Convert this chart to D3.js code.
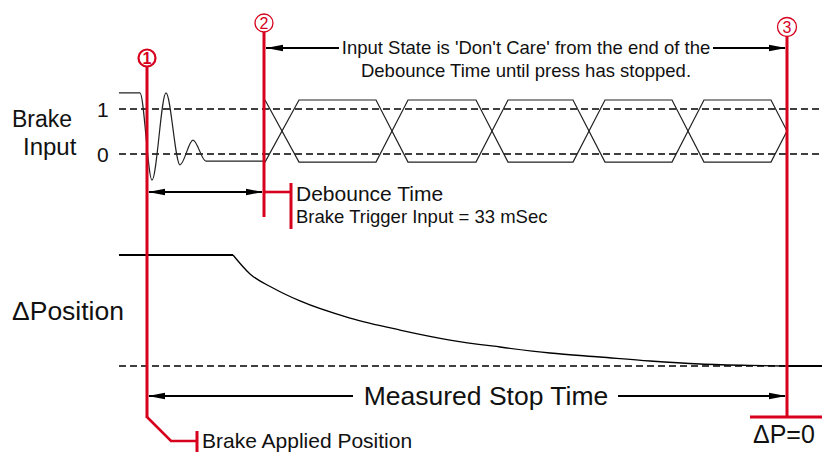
<!DOCTYPE html>
<html><head><meta charset="utf-8">
<script src="https://cdn.jsdelivr.net/npm/d3@7"></script>
<style>
body{margin:0;background:#fff}
svg{display:block}
text{font-family:"Liberation Sans",Arial,Helvetica,sans-serif;fill:#111}
</style>
</head><body>
<svg id="c" width="822" height="452"></svg>
<script>
// ---------------- data (time in arbitrary units, levels normalised) ----------------
const markerLabels = ["1", "2", "3"];
const markerTimes  = [29, 146, 669];           // ① brake applied, ② end of debounce, ③ ΔP = 0

const levelTicks   = [0, 1];
const levelLabels  = ["0", "1"];

// brake input bounce before debounce ends
const bounceT      = [1, 22, 34, 48, 62, 75, 88, 146];
const bounceLevel  = [1.36, 1.36, -0.58, 1.36, -0.24, 0.31, -0.16, -0.16];

// 'don't care' eye pattern
const eyeStart     = 147;
const eyeCross     = [165, 274, 374, 471, 570];
const eyeEnd       = 669;
const eyeHalf      = 16;
const eyeHigh      = 1.2;
const eyeLow       = -0.18;

// Δposition decay
const posT         = [1, 115, 132, 155, 182, 232, 282, 332, 382, 432, 482, 532, 582, 632, 667];
const posV         = [1, 1, 0.829, 0.703, 0.586, 0.432, 0.324, 0.234, 0.171, 0.117, 0.081, 0.045, 0.018, 0.005, 0];

const txtTop       = ["Input State is 'Don't Care' from the end of the", "Debounce Time until press has stopped."];
const txtDebounce  = ["Debounce Time", "Brake Trigger Input = 33 mSec"];
const txtStop      = "Measured Stop Time";
const txtApplied   = "Brake Applied Position";
const txtDP        = "\u0394P=0";
const txtInput     = ["Brake", "Input"];
const txtPos       = "\u0394Position";

// ---------------- scales ----------------
const RED = "#d7001d";
const svg = d3.select("#c");
const X    = d3.scaleLinear().domain([0, 704]).range([118, 822]);
const yIn  = d3.scaleLinear().domain([0, 1]).range([154, 109]);
const yPos = d3.scaleLinear().domain([0, 1]).range([366, 255]);

const mx = markerTimes.map(t => X(t));

function arrowHead(xTip, y, dir) { // dir = -1 points left, +1 points right
  const L = 17, W = 3.2;
  svg.append("path")
    .attr("d", `M${xTip},${y} L${xTip - dir * L},${y - W} L${xTip - dir * L},${y + W} Z`)
    .attr("fill", "#000");
}

// ---------------- dashed reference lines ----------------
levelTicks.forEach(v => {
  svg.append("line").attr("x1", X(1)).attr("x2", X(704)).attr("y1", yIn(v)).attr("y2", yIn(v))
    .attr("stroke", "#000").attr("stroke-width", 1.6).attr("stroke-dasharray", "7,4");
});
svg.append("line").attr("x1", X(1)).attr("x2", mx[2]).attr("y1", yPos(0)).attr("y2", yPos(0))
  .attr("stroke", "#000").attr("stroke-width", 1.6).attr("stroke-dasharray", "7,4");
svg.append("line").attr("x1", mx[2]).attr("x2", X(704)).attr("y1", yPos(0)).attr("y2", yPos(0))
  .attr("stroke", "#000").attr("stroke-width", 1.8);

// ---------------- brake input waveform ----------------
const bounce = bounceT.map((t, i) => [t, bounceLevel[i]]);
svg.append("path")
  .attr("d", d3.line().x(d => X(d[0])).y(d => yIn(d[1])).curve(d3.curveMonotoneX)(bounce))
  .attr("fill", "none").attr("stroke", "#222").attr("stroke-width", 1.2);
// joining step into eye
svg.append("path")
  .attr("d", d3.line().x(d => X(d[0])).y(d => yIn(d[1]))([[bounceT[bounceT.length-1], bounceLevel[bounceLevel.length-1]],[eyeStart, eyeLow]]))
  .attr("fill", "none").attr("stroke", "#222").attr("stroke-width", 1.2);

function trace(startHigh) {
  let s = startHigh;
  const lv = () => s ? eyeHigh : eyeLow;
  const pts = [[eyeStart, lv()]];
  eyeCross.forEach((c, i) => {
    if (i > 0) pts.push([c - eyeHalf, lv()]);
    s = !s;
    pts.push([c + eyeHalf, lv()]);
  });
  pts.push([eyeEnd - eyeHalf, lv()]);
  pts.push([eyeEnd, (eyeHigh + eyeLow) / 2]);
  return pts;
}
[true, false].forEach(h => {
  svg.append("path")
    .attr("d", d3.line().x(d => X(d[0])).y(d => yIn(d[1]))(trace(h)))
    .attr("fill", "none").attr("stroke", "#222").attr("stroke-width", 1.2);
});

// ---------------- Δposition ----------------
const pos = posT.map((t, i) => [t, posV[i]]);
svg.append("path")
  .attr("d", d3.line().x(d => X(d[0])).y(d => yPos(d[1]))(pos.slice(0, 2)))
  .attr("fill", "none").attr("stroke", "#000").attr("stroke-width", 1.8);
svg.append("path")
  .attr("d", d3.line().x(d => X(d[0])).y(d => yPos(d[1])).curve(d3.curveMonotoneX)(pos.slice(1)))
  .attr("fill", "none").attr("stroke", "#000").attr("stroke-width", 1.3);

// ---------------- red markers ----------------
const circ = [{cy: 58, r: 8.5, sw: 2.2, fw: "bold", fs: 16, y0: 67, y1: 418},
              {cy: 23, r: 9,   sw: 1.3, fw: "normal", fs: 16, y0: 32, y1: 217},
              {cy: 27, r: 9.5, sw: 1.3, fw: "normal", fs: 16, y0: 37, y1: 417}];
markerLabels.forEach((lab, i) => {
  const c = circ[i];
  svg.append("line").attr("x1", mx[i]).attr("x2", mx[i]).attr("y1", c.y0).attr("y2", c.y1)
    .attr("stroke", RED).attr("stroke-width", 3);
  svg.append("circle").attr("cx", mx[i]).attr("cy", c.cy).attr("r", c.r)
    .attr("fill", "#fff").attr("stroke", RED).attr("stroke-width", c.sw);
  svg.append("text").attr("x", mx[i]).attr("y", c.cy + 5.8).attr("text-anchor", "middle")
    .attr("font-size", c.fs).attr("font-weight", c.fw).style("fill", RED).text(lab);
});
// marker 1 leader to "Brake Applied Position"
svg.append("path").attr("d", `M${mx[0]},417 L${mx[0] + 24},441 L${mx[0] + 50},441`)
  .attr("fill", "none").attr("stroke", RED).attr("stroke-width", 2.6);
svg.append("line").attr("x1", mx[0] + 50).attr("x2", mx[0] + 50).attr("y1", 431).attr("y2", 452)
  .attr("stroke", RED).attr("stroke-width", 3);
// marker 2 leader to Debounce Time
svg.append("line").attr("x1", mx[1]).attr("x2", mx[1] + 27).attr("y1", 192).attr("y2", 192)
  .attr("stroke", RED).attr("stroke-width", 2.6);
svg.append("line").attr("x1", mx[1] + 27).attr("x2", mx[1] + 27).attr("y1", 183).attr("y2", 229)
  .attr("stroke", RED).attr("stroke-width", 3);
// marker 3 ΔP=0 bar
svg.append("line").attr("x1", mx[2] - 37).attr("x2", 822).attr("y1", 417).attr("y2", 417)
  .attr("stroke", RED).attr("stroke-width", 3);

// ---------------- arrows ----------------
// debounce
svg.append("line").attr("x1", mx[0] + 2).attr("x2", mx[1] - 2).attr("y1", 192).attr("y2", 192)
  .attr("stroke", "#000").attr("stroke-width", 2);
arrowHead(mx[0] + 1, 192, -1);
arrowHead(mx[1] - 1, 192, 1);
// top "don't care"
svg.append("line").attr("x1", mx[1] + 2).attr("x2", 339).attr("y1", 48).attr("y2", 48)
  .attr("stroke", "#000").attr("stroke-width", 2);
svg.append("line").attr("x1", 713).attr("x2", mx[2] - 2).attr("y1", 48).attr("y2", 48)
  .attr("stroke", "#000").attr("stroke-width", 2);
arrowHead(mx[1] + 2, 48, -1);
arrowHead(mx[2] - 1, 48, 1);
// measured stop time
svg.append("line").attr("x1", mx[0] + 2).attr("x2", 353).attr("y1", 396).attr("y2", 396)
  .attr("stroke", "#000").attr("stroke-width", 2);
svg.append("line").attr("x1", 618).attr("x2", mx[2] - 2).attr("y1", 396).attr("y2", 396)
  .attr("stroke", "#000").attr("stroke-width", 2);
arrowHead(mx[0] + 1, 396, -1);
arrowHead(mx[2] - 1, 396, 1);

// ---------------- texts ----------------
svg.append("text").attr("x", 12).attr("y", 127).attr("font-size", 23).text(txtInput[0]);
svg.append("text").attr("x", 23).attr("y", 155).attr("font-size", 24).text(txtInput[1]);
levelTicks.forEach((v, i) => {
  svg.append("text").attr("x", 97).attr("y", yIn(v) + 8).attr("font-size", 21).text(levelLabels[i]);
});
svg.append("text").attr("x", 12).attr("y", 320).attr("font-size", 26.5).text(txtPos);

svg.append("text").attr("x", 526).attr("y", 54).attr("text-anchor", "middle").attr("font-size", 18.5).text(txtTop[0]);
svg.append("text").attr("x", 526).attr("y", 77).attr("text-anchor", "middle").attr("font-size", 18.5).text(txtTop[1]);

svg.append("text").attr("x", 296).attr("y", 201).attr("font-size", 21).text(txtDebounce[0]);
svg.append("text").attr("x", 296).attr("y", 223).attr("font-size", 18.5).text(txtDebounce[1]);

svg.append("text").attr("x", 486).attr("y", 405).attr("text-anchor", "middle").attr("font-size", 26.5).text(txtStop);
svg.append("text").attr("x", 202).attr("y", 448).attr("font-size", 21).text(txtApplied);
svg.append("text").attr("x", 753).attr("y", 443).attr("font-size", 25).text(txtDP);
</script>
</body></html>
